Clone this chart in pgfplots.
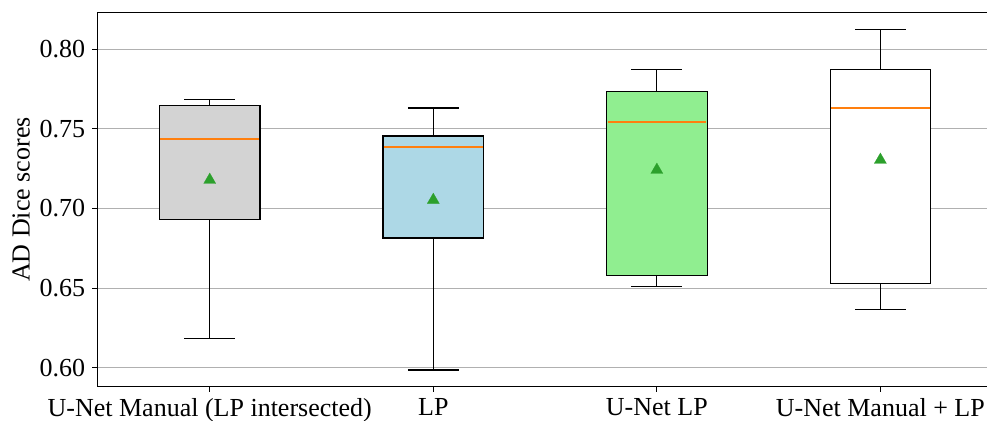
\documentclass[border=0pt]{standalone}
\usepackage{fontspec}
\setmainfont{Liberation Serif}
\usepackage{pgfplots}
\pgfplotsset{compat=1.18}
\usepgfplotslibrary{statistics}
\definecolor{mplorange}{HTML}{FF7F0E}
\definecolor{mplgreen}{HTML}{2CA02C}
\definecolor{gridgray}{HTML}{B0B0B0}
\definecolor{boxgray}{HTML}{D3D3D3}
\definecolor{boxblue}{HTML}{ADD8E6}
\definecolor{boxgreen}{HTML}{90EE90}
\begin{document}
\begin{tikzpicture}
\begin{axis}[
  scale only axis,
  width=444.85pt, height=187.2pt,
  xmin=0.497, xmax=4.477,
  ymin=0.5881, ymax=0.8232,
  xtick={1,2,3,4},
  xticklabels={U-Net Manual (LP intersected),LP,U-Net LP,U-Net Manual + LP},
  ytick={0.60,0.65,0.70,0.75,0.80},
  yticklabel style={/pgf/number format/.cd,fixed,fixed zerofill,precision=2,assume math mode=true},
  tick label style={font=\fontsize{13}{15}\selectfont},
  label style={font=\fontsize{13}{15}\selectfont},
  ylabel={AD Dice scores},
  ylabel style={yshift=-2pt},
  ymajorgrids=true,
  grid style={gridgray, line width=0.45pt},
  xtick pos=bottom, ytick pos=left,
  tick align=outside,
  major tick length=2.5pt,
  tick style={black, line width=0.45pt},
  axis line style={line width=0.5pt},
  boxplot/draw direction=y,
  boxplot/box extend=0.45,
  boxplot/whisker extend=0.227,
  boxplot/draw/median/.code={%
    \draw[draw=mplorange, line width=1.0pt, opacity=1]
      (boxplot box cs:\pgfplotsboxplotvalue{median},0.01) --
      (boxplot box cs:\pgfplotsboxplotvalue{median},0.99);},
  boxplot/draw/average/.code={%
    \draw[mplgreen, fill=mplgreen, line width=0.1pt]
      plot[only marks, mark=triangle*, mark size=3.5pt,
           mark options={fill=mplgreen, draw=mplgreen}]
      coordinates {(boxplot box cs:\pgfplotsboxplotvalue{average},0.5)};},
  boxstyle/.style={draw=black, line width=0.55pt, solid, mark=none},
]
\addplot[boxstyle, fill=boxgray,
  boxplot prepared={draw position=1, lower whisker=0.6185, lower quartile=0.6930,
    median=0.7438, upper quartile=0.7644, upper whisker=0.7682, average=0.7179}]
  coordinates {};
\addplot[boxstyle, fill=boxblue,
  boxplot prepared={draw position=2, lower whisker=0.5986, lower quartile=0.6815,
    median=0.7383, upper quartile=0.7455, upper whisker=0.7631, average=0.7053}]
  coordinates {};
\addplot[boxstyle, fill=boxgreen,
  boxplot prepared={draw position=3, lower whisker=0.6509, lower quartile=0.6582,
    median=0.7543, upper quartile=0.7732, upper whisker=0.7873, average=0.7242}]
  coordinates {};
\addplot[boxstyle, fill=white,
  boxplot prepared={draw position=4, lower whisker=0.6367, lower quartile=0.6530,
    median=0.7631, upper quartile=0.7870, upper whisker=0.8126, average=0.7305}]
  coordinates {};
\end{axis}
\pgfresetboundingbox
\path[use as bounding box] ([xshift=-48.65pt,yshift=-17.15pt]current axis.south west) rectangle ([yshift=6.15pt]current axis.north east);
\end{tikzpicture}
\end{document}
